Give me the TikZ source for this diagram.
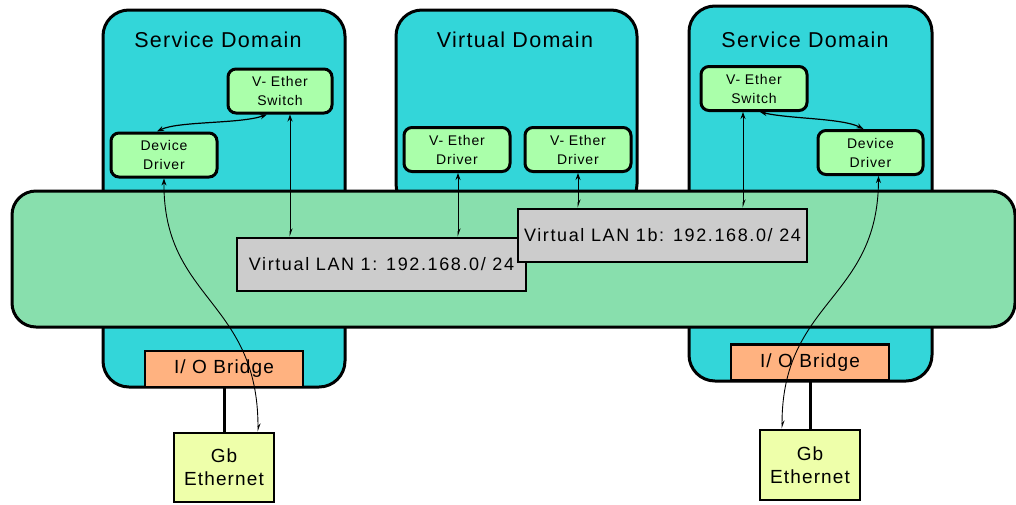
\documentclass[tikz,border=0pt]{standalone}
\usepackage{fontspec}
\setmainfont{Liberation Sans}[LetterSpace=6]
\usetikzlibrary{arrows.meta}
\definecolor{domcyan}{RGB}{51,214,217}
\definecolor{busgreen}{RGB}{136,223,173}
\definecolor{boxgreen}{RGB}{170,255,170}
\definecolor{langray}{RGB}{204,204,204}
\definecolor{bridgeorange}{RGB}{255,178,128}
\definecolor{ethyellow}{RGB}{238,255,170}
\begin{document}
\begin{tikzpicture}[x=1pt,y=-1pt,
  sysdomain/.style={draw, line width=3pt, fill=domcyan, rounded corners=26pt, inner sep=0pt},
  hvbus/.style={draw, line width=3pt, fill=busgreen, rounded corners=24pt, inner sep=0pt},
  domtitle/.style={font=\fontsize{21.5}{24}\selectfont, inner sep=0pt},
  unitbox/.style={draw, line width=3pt, fill=boxgreen, rounded corners=8pt,
    minimum width=106pt, minimum height=44pt, align=center, inner sep=0pt,
    font=\fontsize{14}{19}\selectfont},
  lanbox/.style={draw, line width=2.5pt, fill=langray, minimum width=289pt,
    minimum height=53pt, inner sep=0pt, font=\fontsize{18}{20}\selectfont\addfontfeatures{LetterSpace=9}},
  bridgebox/.style={draw, line width=2.5pt, fill=bridgeorange, minimum width=158pt,
    minimum height=36pt, inner sep=0pt, font=\fontsize{19}{20}\selectfont},
  ethbox/.style={draw, line width=2.5pt, fill=ethyellow, minimum width=100pt,
    minimum height=69pt, align=center, inner sep=0pt, font=\fontsize{19}{23}\selectfont},
  wire/.style={line width=3pt},
  vlink/.style={line width=0.9pt,
    {Stealth[length=7pt,width=5pt]}-{Stealth[length=7pt,width=5pt,harpoon]}},
  peerlink/.style={line width=1.2pt,
    {Stealth[length=7pt,width=5pt]}-{Stealth[length=7pt,width=5pt]}}
]
\useasboundingbox (0,0) rectangle (1016,504);

% domains
\node[sysdomain, minimum width=242pt, minimum height=377pt] (sdl) at (224,198.5) {};
\node[sysdomain, minimum width=241pt, minimum height=200pt] (vd) at (516.5,110) {};
\node[sysdomain, minimum width=243pt, minimum height=375pt] (sdr) at (810.5,193.5) {};
\node[domtitle] (sdlt) at (218,40) {Service Domain};
\node[domtitle] (vdt) at (515,40) {Virtual Domain};
\node[domtitle] (sdrt) at (805,40) {Service Domain};

% I/O bridges
\node[bridgebox] (iol) at (224,369) {I/ O Bridge};
\node[bridgebox] (ior) at (810,362.5) {I/ O Bridge};

% hypervisor bus
\node[hvbus, minimum width=1003pt, minimum height=136pt] (bus) at (513.5,259) {};

% virtual LANs
\node[lanbox] (lan1) at (381.5,264.5) {Virtual LAN 1: 192.168.0/ 24};
\node[lanbox] (lan1b) at (662.5,235.5) {Virtual LAN 1b: 192.168.0/ 24};

% driver and switch units
\node[unitbox] (ldd) at (164,155) {Device\\Driver};
\node[unitbox, minimum width=104pt] (lsw) at (280,91) {V- Ether\\Switch};
\node[unitbox] (vd1) at (457,149.5) {V- Ether\\Driver};
\node[unitbox] (vd2) at (578,149.5) {V- Ether\\Driver};
\node[unitbox] (rsw) at (754,88.5) {V- Ether\\Switch};
\node[unitbox, minimum width=105pt] (rdd) at (870.5,152.5) {Device\\Driver};

% physical ethernet
\node[ethbox] (gbl) at (224,467.5) {Gb\\Ethernet};
\node[ethbox, minimum height=70pt] (gbr) at (810,465) {Gb\\Ethernet};
\draw[wire] (iol.south) -- (gbl.north);
\draw[wire] (ior.south) -- (gbr.north);

% vertical links to the LANs
\coordinate (xa) at (290,0);
\coordinate (xb) at (458,0);
\coordinate (xc) at (578,0);
\coordinate (xd) at (743,0);
\draw[vlink] (lsw.south -| xa) -- (lan1.north -| xa);
\draw[vlink] (vd1.south -| xb) -- (lan1.north -| xb);
\draw[vlink] (vd2.south -| xc) -- (lan1b.north -| xc);
\draw[vlink] (rsw.south -| xd) -- (lan1b.north -| xd);

% driver to switch
\draw[peerlink] ([xshift=-7pt]ldd.north) .. controls (178,121) and (240,124) .. ([xshift=-13pt]lsw.south);
\draw[peerlink] ([xshift=-7pt]rdd.north) .. controls (842,118) and (790,119) .. ([xshift=6pt]rsw.south);

% driver to physical port
\draw[vlink] (ldd.south) .. controls (163,300) and (258,300) .. ([xshift=34pt]gbl.north);
\draw[vlink] ([xshift=8pt]rdd.south) .. controls (878,300) and (782,300) .. ([xshift=-28pt]gbr.north);
\end{tikzpicture}
\end{document}
